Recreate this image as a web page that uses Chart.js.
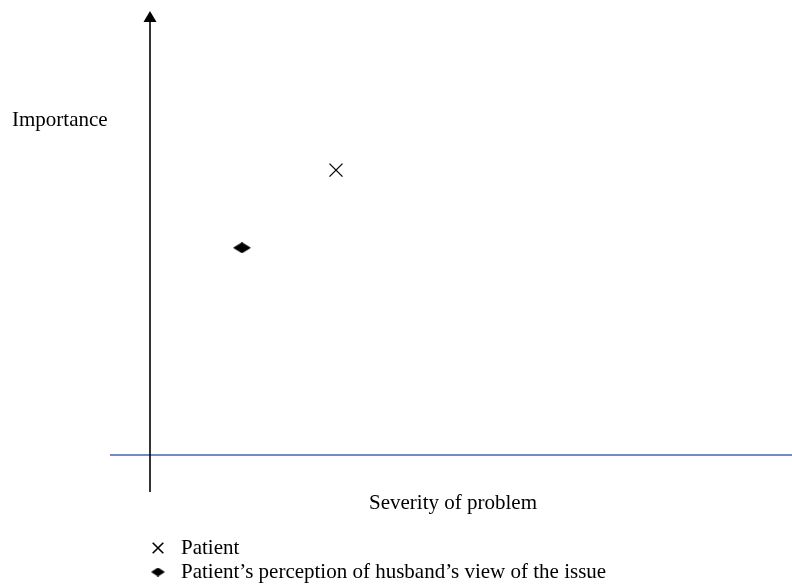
<!DOCTYPE html>
<html>
<head>
<meta charset="utf-8">
<script src="https://cdn.jsdelivr.net/npm/chart.js@4.4.1/dist/chart.umd.min.js"></script>
<style>
  body { margin: 0; background: #fff; }
  #wrap { width: 792px; height: 584px; }
</style>
</head>
<body>
<div id="wrap"><canvas id="chart" width="792" height="584"></canvas></div>
<script>
// data - positions in arbitrary "severity" / "importance" units
const seriesNames = ['Patient', 'Patient\u2019s perception of husband\u2019s view of the issue'];
const patientPts = [{ x: 4.65, y: 7.7 }];
const husbandPts = [{ x: 2.3, y: 5.6 }];
const xRange = [-1, 16.05];
const yRange = [-1, 12];
const axisTitles = ['Severity of problem', 'Importance'];

const FONT = '21px "Liberation Serif", "Times New Roman", serif';

// flattened diamond used as point style
function makeDiamond(w, h) {
  const c = document.createElement('canvas');
  c.width = w; c.height = h;
  const g = c.getContext('2d');
  g.fillStyle = '#000';
  g.beginPath();
  g.moveTo(w / 2, 0);
  g.lineTo(w, h / 2);
  g.lineTo(w / 2, h);
  g.lineTo(0, h / 2);
  g.closePath();
  g.fill();
  return c;
}
const bigDiamond = makeDiamond(18, 11);
const smallDiamond = makeDiamond(14, 9);

// draws the crossing axes, the arrow head, titles and the legend
const decor = {
  id: 'decor',
  afterDatasetsDraw(chart) {
    const ctx = chart.ctx;
    const xs = chart.scales.x, ys = chart.scales.y;
    const x0 = xs.getPixelForValue(0);
    const y0 = ys.getPixelForValue(0);
    const top = ys.getPixelForValue(yRange[1]);
    const bottom = ys.getPixelForValue(yRange[0]);
    ctx.save();

    // horizontal axis (blue)
    ctx.strokeStyle = '#6f8cc4';
    ctx.lineWidth = 2;
    ctx.beginPath();
    ctx.moveTo(xs.getPixelForValue(xRange[0]), y0);
    ctx.lineTo(xs.getPixelForValue(xRange[1]), y0);
    ctx.stroke();

    // vertical axis with arrow
    ctx.strokeStyle = '#000';
    ctx.lineWidth = 1.6;
    ctx.beginPath();
    ctx.moveTo(x0, bottom);
    ctx.lineTo(x0, top + 8);
    ctx.stroke();
    ctx.fillStyle = '#000';
    ctx.beginPath();
    ctx.moveTo(x0, top);
    ctx.lineTo(x0 + 6.5, top + 11);
    ctx.lineTo(x0 - 6.5, top + 11);
    ctx.closePath();
    ctx.fill();

    // axis titles
    ctx.font = FONT;
    ctx.fillStyle = '#000';
    ctx.textBaseline = 'alphabetic';
    ctx.textAlign = 'left';
    ctx.fillText(axisTitles[1], 12, 126);
    ctx.textAlign = 'center';
    ctx.fillText(axisTitles[0], 453, 509);

    // legend
    ctx.textAlign = 'left';
    Chart.helpers.drawPoint(ctx, { pointStyle: 'crossRot', radius: 7.5, borderWidth: 1.2 }, 158, 548);
    ctx.fillText(seriesNames[0], 181, 554);
    ctx.drawImage(smallDiamond, 158 - 7, 572 - 4.5);
    ctx.fillText(seriesNames[1], 181, 578);
    ctx.restore();
  }
};

new Chart(document.getElementById('chart'), {
  type: 'scatter',
  data: {
    datasets: [
      {
        label: seriesNames[0],
        data: patientPts,
        pointStyle: 'crossRot',
        pointRadius: 9.2,
        pointHoverRadius: 9.2,
        borderColor: '#000',
        borderWidth: 1.3
      },
      {
        label: seriesNames[1],
        data: husbandPts,
        pointStyle: bigDiamond,
        pointRadius: 9,
        backgroundColor: '#000',
        borderColor: '#000'
      }
    ]
  },
  options: {
    responsive: false,
    animation: false,
    layout: { autoPadding: false, padding: { left: 110, right: 0, top: 11, bottom: 92 } },
    scales: {
      x: { type: 'linear', min: xRange[0], max: xRange[1], display: false },
      y: { type: 'linear', min: yRange[0], max: yRange[1], display: false }
    },
    plugins: {
      legend: { display: false },
      tooltip: { enabled: false }
    }
  },
  plugins: [decor]
});
</script>
</body>
</html>
